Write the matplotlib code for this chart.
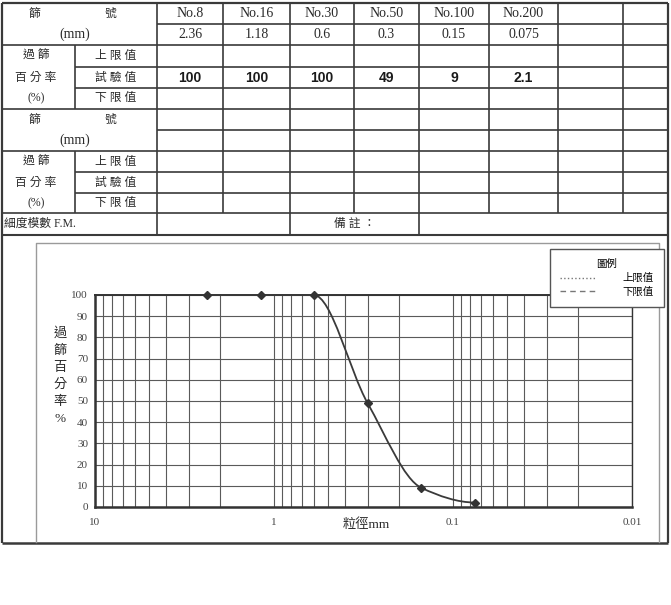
import numpy as np
import matplotlib
matplotlib.use('Agg')
import matplotlib.pyplot as plt
from matplotlib.lines import Line2D
from matplotlib.path import Path
from matplotlib.patches import PathPatch

plt.rcParams['font.family'] = ['Liberation Serif', 'Noto Sans CJK TC']

# data
sieve_names = ['No.8', 'No.16', 'No.30', 'No.50', 'No.100', 'No.200']
sieve_labels = ['2.36', '1.18', '0.6', '0.3', '0.15', '0.075']
sieve_mm = [2.36, 1.18, 0.6, 0.3, 0.15, 0.075]
passing = [100, 100, 100, 49, 9, 2.1]
passing_labels = ['100', '100', '100', '49', '9', '2.1']
limit_names = ['上 限 值', '試 驗 值', '下 限 值']
pct_names = ['過 篩', '百 分 率', '(%)']
y_ticks = list(range(0, 101, 10))
x_major = [10, 1, 0.1, 0.01]
x_major_labels = ['10', '1', '0.1', '0.01']
legend_labels = ['上限值', '下限值']

W, H = 671, 605
LC = '#3a3a3a'
TC = '#2a2a2a'

fig = plt.figure(figsize=(W / 100, H / 100), dpi=100)
bg = fig.add_axes([0, 0, 1, 1])
bg.set_xlim(0, W)
bg.set_ylim(H, 0)
bg.axis('off')

def hline(y, x0, x1, lw=1.2, c=LC):
    bg.plot([x0, x1], [y, y], color=c, lw=lw, solid_capstyle='butt')

def vline(x, y0, y1, lw=1.2, c=LC):
    bg.plot([x, x], [y0, y1], color=c, lw=lw, solid_capstyle='butt')

# table grid (pixel layout)
col_x = [2, 75, 157, 223, 290, 354, 419, 489, 558, 623, 668]
row_y = [3, 24, 45, 67, 88, 109, 130, 151, 172, 193, 213, 235]
L, R = col_x[0], col_x[-1]

hline(row_y[0], L, R, lw=1.6)
hline(row_y[1], col_x[2], R)
hline(row_y[2], L, R)
hline(row_y[3], col_x[1], R)
hline(row_y[4], col_x[1], R)
hline(row_y[5], L, R)
hline(row_y[6], col_x[2], R)
hline(row_y[7], L, R)
hline(row_y[8], col_x[1], R)
hline(row_y[9], col_x[1], R)
hline(row_y[10], L, R)
hline(row_y[11], L, R, lw=1.5)
hline(543, L, R, lw=1.8)

vline(L, row_y[0], 543, lw=1.6)
vline(R, row_y[0], 543, lw=1.6)
vline(col_x[1], row_y[2], row_y[5])
vline(col_x[1], row_y[7], row_y[10])
vline(col_x[2], row_y[0], row_y[11])
vline(col_x[4], row_y[0], row_y[11])
vline(col_x[6], row_y[0], row_y[11])
for cx in [col_x[3], col_x[5], col_x[7], col_x[8], col_x[9]]:
    vline(cx, row_y[0], row_y[10])

# inner chart frame
bg.plot([36, 36, 659, 659], [542, 243, 243, 542], color='#9a9a9a', lw=1.0)

def mid(a, b):
    return (a + b) / 2

def cjk(x, y, s, size=8.5, ha='center'):
    bg.text(x, y, s, fontsize=size, ha=ha, va='center', color=TC)

for r0 in (0, 5):
    ym1 = mid(row_y[r0], row_y[r0 + 1])
    ym2 = mid(row_y[r0 + 1], row_y[r0 + 2])
    cjk(34, ym1, '篩')
    cjk(110, ym1, '號')
    cjk(75, ym2, '(mm)', size=10)
for r0 in (2, 7):
    for i in range(3):
        ym = mid(row_y[r0 + i], row_y[r0 + i + 1])
        cjk(36, ym, pct_names[i])
        cjk(116, ym, limit_names[i])

for i in range(6):
    xc = mid(col_x[i + 2], col_x[i + 3])
    bg.text(xc, mid(row_y[0], row_y[1]), sieve_names[i], fontsize=10,
            ha='center', va='center', color=TC)
    bg.text(xc, mid(row_y[1], row_y[2]), sieve_labels[i], fontsize=10,
            ha='center', va='center', color=TC)
    bg.text(xc, mid(row_y[3], row_y[4]), passing_labels[i], fontsize=10,
            family='Liberation Sans', weight='bold', ha='center',
            va='center', color='#1a1a1a')

bg.text(4, mid(row_y[10], row_y[11]), '細度模數 F.M.', fontsize=8.5,
        ha='left', va='center', color=TC)
cjk(mid(col_x[4], col_x[6]), mid(row_y[10], row_y[11]), '備 註 ：')

# chart
ax = fig.add_axes([95 / W, 1 - 507 / H, (632 - 95) / W, (507 - 295) / H])
ax.set_xscale('log')
ax.set_xlim(10, 0.01)
ax.set_ylim(0, 100)

minor = []
for dec in [1, 0.1, 0.01]:
    minor += [k * dec for k in range(2, 10)]
ax.set_xticks(x_major)
ax.set_xticklabels(x_major_labels)
ax.set_xticks(minor, minor=True)
ax.set_xticklabels([], minor=True)
ax.set_yticks(y_ticks)
ax.tick_params(which='both', length=0, labelsize=8, colors='#444')
ax.tick_params(axis='x', pad=8)
ax.tick_params(axis='y', pad=5)
ax.grid(True, which='both', color='#5a5a5a', lw=0.8)
ax.set_axisbelow(True)
for side, lw in [('left', 1.8), ('bottom', 1.8), ('top', 1.4), ('right', 1.0)]:
    ax.spines[side].set_linewidth(lw)
    ax.spines[side].set_color('#333')

# smooth curve through test points (monotone cubic, log-x)
u = np.log10(np.array(sieve_mm))[::-1]
yv = np.array(passing, dtype=float)[::-1]
h = np.diff(u)
dl = np.diff(yv) / h
m = np.zeros(len(u))
for i in range(1, len(u) - 1):
    if dl[i - 1] * dl[i] > 0:
        w1 = 2 * h[i] + h[i - 1]
        w2 = h[i] + 2 * h[i - 1]
        m[i] = (w1 + w2) / (w1 / dl[i - 1] + w2 / dl[i])
e0 = ((2 * h[0] + h[1]) * dl[0] - h[0] * dl[1]) / (h[0] + h[1])
m[0] = e0 if e0 * dl[0] > 0 else 0
verts = [(10 ** u[0], yv[0])]
codes = [Path.MOVETO]
for i in range(len(u) - 1):
    verts += [(10 ** (u[i] + h[i] / 3), yv[i] + m[i] * h[i] / 3),
              (10 ** (u[i + 1] - h[i] / 3), yv[i + 1] - m[i + 1] * h[i] / 3),
              (10 ** u[i + 1], yv[i + 1])]
    codes += [Path.CURVE4] * 3
ax.add_patch(PathPatch(Path(verts, codes), fill=False, edgecolor='#3a3a3a',
                       lw=1.3, clip_on=False, zorder=3))
ax.plot(sieve_mm, passing, ls='none', marker='D', ms=4.5, color='#333',
        clip_on=False, zorder=4)

fig.text(366 / W, 1 - 525 / H, '粒徑mm', fontsize=9.5, ha='center',
         va='center', color=TC)
fig.text(60 / W, 1 - 376 / H, '過\n篩\n百\n分\n率\n%', fontsize=9.5,
         ha='center', va='center', linespacing=1.55, color=TC)

handles = [Line2D([], [], color='#777', ls=':', lw=1.0),
           Line2D([], [], color='#777', ls=(0, (4, 3)), lw=1.0)]
leg = fig.legend(handles, legend_labels, title='圖例', loc='upper right',
                 bbox_to_anchor=(664 / W, 1 - 249 / H), fontsize=7.5,
                 title_fontsize=7.5, frameon=True, fancybox=False,
                 edgecolor='#555', framealpha=1, handlelength=3.4,
                 handletextpad=2.6, borderpad=1.0, labelspacing=0.35,
                 borderaxespad=0)
leg.get_frame().set_linewidth(1.0)

fig.savefig('out.png', dpi=100)
